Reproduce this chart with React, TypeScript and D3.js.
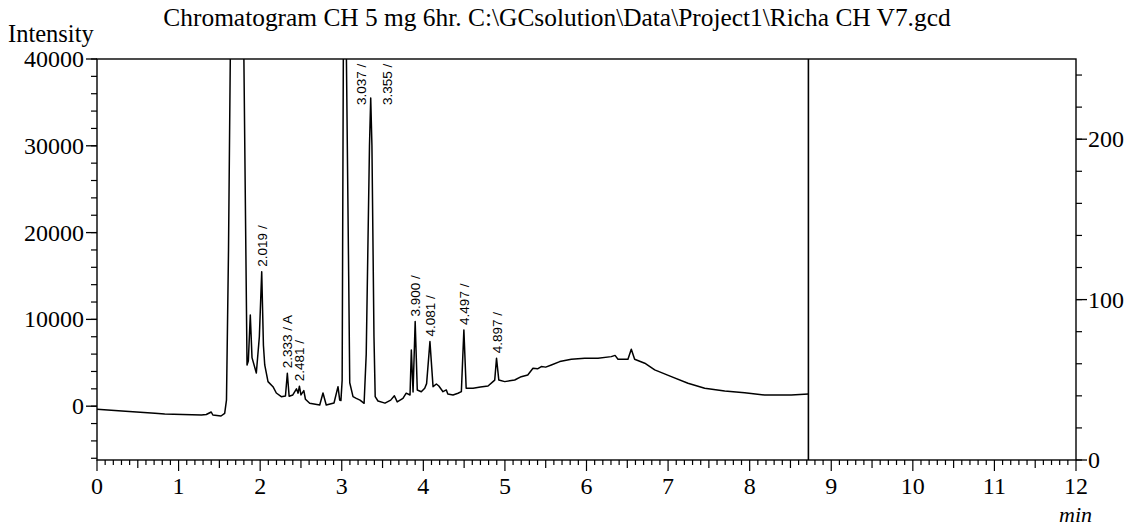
import React from "react";
import * as d3 from "d3";

// Retention time (min) and detector intensity of the recorded trace
const traceTime = [
  0.0, 0.35, 0.71, 0.83, 1.05, 1.28, 1.34, 1.4, 1.42, 1.52, 1.565, 1.587, 1.612, 1.636, 1.798, 1.839,
  1.855, 1.879, 1.9, 1.953, 1.99, 2.019, 2.04, 2.056, 2.096, 2.157, 2.198, 2.259, 2.31, 2.333, 2.355,
  2.4, 2.445, 2.465, 2.481, 2.5, 2.535, 2.555, 2.607, 2.73, 2.77, 2.81, 2.905, 2.954, 2.975, 2.99,
  3.005, 3.02, 3.037, 3.055, 3.085, 3.098, 3.138, 3.178, 3.224, 3.274, 3.3, 3.34, 3.355, 3.37, 3.395,
  3.41, 3.444, 3.53, 3.6, 3.645, 3.68, 3.75, 3.79, 3.837, 3.853, 3.874, 3.9, 3.926, 3.975, 4.017,
  4.04, 4.081, 4.119, 4.16, 4.19, 4.241, 4.282, 4.3, 4.364, 4.425, 4.466, 4.497, 4.525, 4.61, 4.7,
  4.793, 4.854, 4.875, 4.897, 4.925, 4.998, 5.12, 5.2, 5.28, 5.344, 5.4, 5.446, 5.5, 5.569, 5.672,
  5.814, 5.978, 6.141, 6.304, 6.35, 6.386, 6.508, 6.549, 6.59, 6.714, 6.836, 7.04, 7.244, 7.449,
  7.694, 7.939, 8.184, 8.51, 8.72,
];
const traceIntensity = [
  -360, -590, -820, -900, -960, -1015, -960, -670, -1015, -1130, -820, 700, 18000, 42300, 42300, 4750,
  5200, 10500, 5600, 3830, 8000, 15500, 7000, 4750, 2830, 2250, 1520, 1100, 1180, 3800, 1150,
  1290, 2000, 1500, 2300, 1300, 1800, 800, 330, 140, 1520, 140, 370, 2250, 700, 650,
  3000, 42000, 45000, 42000, 15000, 2700, 1100, 900, 700, 330, 6000, 30000, 35500, 30000, 8000,
  1100, 600, 350, 700, 1200, 500, 900, 1500, 1290, 6480, 1640, 9750, 1870, 1670, 2070,
  2600, 7440, 2250, 2560, 2330, 1670, 1870, 1400, 1290, 1490, 1670, 8790, 2070, 2070, 2200,
  2330, 2830, 3000, 5530, 3020, 2830, 3020, 3400, 3600, 4370, 4300, 4560, 4500, 4750, 5140,
  5410, 5530, 5530, 5710, 5850, 5410, 5410, 6570, 5410, 4950, 4180, 3400, 2640, 2070,
  1750, 1560, 1290, 1290, 1410,
];

// Integrated peaks and their annotation suffixes
const peakTimes = [2.019, 2.333, 2.481, 3.037, 3.355, 3.9, 4.081, 4.497, 4.897];
const peakSuffix = [" /", " / A", " /", " /", " /", " /", " /", " /", " /"];

const runEnd = 8.72;

const timeTicks = [0, 1, 2, 3, 4, 5, 6, 7, 8, 9, 10, 11, 12];
const intensityTicks = [0, 10000, 20000, 30000, 40000];
const rightTicks = [0, 100, 200];

const title = "Chromatogram CH 5 mg 6hr. C:\\GCsolution\\Data\\Project1\\Richa CH V7.gcd";

export default function App() {
  const W = 1145;
  const H = 528;
  const left = 97;
  const right = 1076;
  const top = 59;
  const bottom = 460;

  const x = d3.scaleLinear().domain([0, 12]).range([left, right]);
  const yL = d3.scaleLinear().domain([-6200, 40000]).range([bottom, top]);
  const yR = d3.scaleLinear().domain([0, 250]).range([bottom, top]);

  const points = traceTime.map((t, i) => [t, traceIntensity[i]] as [number, number]);
  const line = d3
    .line<[number, number]>()
    .x((d) => x(d[0]))
    .y((d) => yL(d[1]));

  const minorX = d3.range(0, 121).map((i) => i / 10);
  const minorL = d3.range(-6000, 40001, 2000);
  const minorR = d3.range(0, 250, 20);

  const serif = "'Liberation Serif', 'Times New Roman', serif";
  const sans = "'Liberation Sans', Arial, sans-serif";

  const labelLen = 42;
  const peakLabels = peakTimes.map((t, i) => {
    const idx = traceTime.indexOf(t);
    const v = idx >= 0 ? traceIntensity[idx] : 0;
    const py = Math.max(yL(v), top);
    let lx = x(t);
    let ly = py - 5;
    if (ly - labelLen < top + 4) {
      ly = top + 4 + labelLen;
      lx = x(t) + 16;
    }
    return { text: t.toFixed(3) + peakSuffix[i], lx, ly };
  });

  return (
    <svg width={W} height={H} style={{ display: "block", position: "absolute", left: 0, top: 0 }}>
      <rect x={0} y={0} width={W} height={H} fill="#fff" />
      <defs>
        <clipPath id="plotClip">
          <rect x={left} y={top} width={right - left} height={bottom - top} />
        </clipPath>
      </defs>

      <text x={557} y={26} textAnchor="middle" fontFamily={serif} fontSize={25.4} fill="#000">
        {title}
      </text>
      <text x={8} y={42} fontFamily={serif} fontSize={24.5} fill="#000">
        Intensity
      </text>

      {/* frame */}
      <rect x={left} y={top} width={right - left} height={bottom - top} fill="none" stroke="#000" strokeWidth={1.4} />

      {/* time axis ticks */}
      {minorX.map((t) => {
        const k = Math.round(t * 10);
        const len = k % 10 === 0 ? 11 : k % 5 === 0 ? 8 : 5;
        return <line key={"tx" + k} x1={x(t)} x2={x(t)} y1={bottom} y2={bottom + len} stroke="#000" strokeWidth={1.2} />;
      })}
      {timeTicks.map((t) => (
        <text key={"lx" + t} x={x(t)} y={494} textAnchor="middle" fontFamily={serif} fontSize={24} fill="#000">
          {t}
        </text>
      ))}
      <text x={1092} y={522} textAnchor="end" fontFamily={serif} fontStyle="italic" fontSize={22} fill="#000">
        min
      </text>

      {/* left intensity axis */}
      {minorL.map((v) => (
        <line key={"ml" + v} x1={left - 6} x2={left} y1={yL(v)} y2={yL(v)} stroke="#000" strokeWidth={1.2} />
      ))}
      {intensityTicks.map((v) => (
        <g key={"il" + v}>
          <line x1={left - 11} x2={left} y1={yL(v)} y2={yL(v)} stroke="#000" strokeWidth={1.3} />
          <text x={left - 13} y={yL(v) + 8} textAnchor="end" fontFamily={serif} fontSize={24} fill="#000">
            {v}
          </text>
        </g>
      ))}

      {/* right axis */}
      {minorR.map((v) => (
        <line key={"mr" + v} x1={right} x2={right + 6} y1={yR(v)} y2={yR(v)} stroke="#000" strokeWidth={1.2} />
      ))}
      {rightTicks.map((v) => (
        <g key={"ir" + v}>
          <line x1={right} x2={right + 11} y1={yR(v)} y2={yR(v)} stroke="#000" strokeWidth={1.3} />
          <text x={right + 12} y={yR(v) + 8} textAnchor="start" fontFamily={serif} fontSize={24} fill="#000">
            {v}
          </text>
        </g>
      ))}

      {/* end of run */}
      <line x1={x(runEnd)} x2={x(runEnd)} y1={top} y2={bottom} stroke="#000" strokeWidth={1.6} />

      {/* trace */}
      <path d={line(points) || ""} fill="none" stroke="#000" strokeWidth={1.5} strokeLinejoin="round" clipPath="url(#plotClip)" />

      {/* peak labels */}
      {peakLabels.map((p, i) => (
        <text
          key={"pk" + i}
          transform={`translate(${p.lx + 5},${p.ly}) rotate(-90)`}
          fontFamily={sans}
          fontSize={13.5}
          fill="#000"
        >
          {p.text}
        </text>
      ))}
    </svg>
  );
}
